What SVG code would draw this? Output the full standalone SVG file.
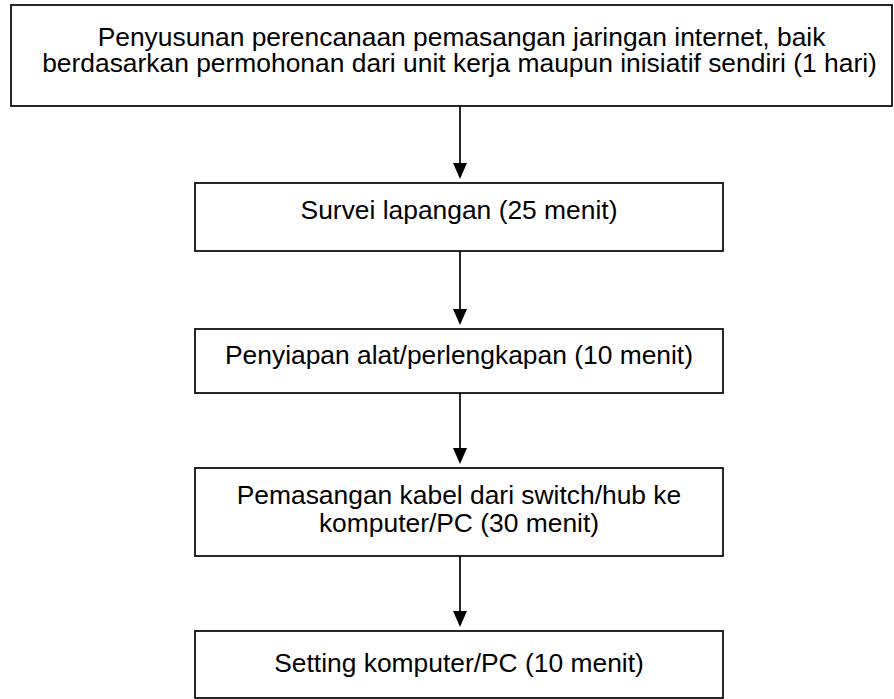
<svg xmlns="http://www.w3.org/2000/svg" width="894" height="699" viewBox="0 0 894 699">
<style>
.box{fill:#fff;stroke:#000;stroke-width:1.7}
.t{font-family:"Liberation Sans",Arial,sans-serif;font-size:26.4px;fill:#000;text-anchor:middle}
.c{stroke:#000;stroke-width:1.7;fill:none}
.ah{fill:#000}
</style>
<rect width="894" height="699" fill="#fff"/>
<g id="n1">
<rect class="box" x="11" y="5" width="881" height="101"/>
<text class="t" x="461.5" y="46">Penyusunan perencanaan pemasangan jaringan internet, baik</text>
<text class="t" x="459.5" y="72">berdasarkan permohonan dari unit kerja maupun inisiatif sendiri (1 hari)</text>
</g>
<g id="n2">
<rect class="box" x="195" y="183" width="528" height="68"/>
<text class="t" x="459" y="219">Survei lapangan (25 menit)</text>
</g>
<g id="n3">
<rect class="box" x="195" y="329" width="528" height="64"/>
<text class="t" x="459" y="364">Penyiapan alat/perlengkapan (10 menit)</text>
</g>
<g id="n4">
<rect class="box" x="195" y="468" width="528" height="88"/>
<text class="t" x="459" y="504">Pemasangan kabel dari switch/hub ke</text>
<text class="t" x="459" y="532">komputer/PC (30 menit)</text>
</g>
<g id="n5">
<rect class="box" x="195" y="631" width="528" height="67"/>
<text class="t" x="459" y="672">Setting komputer/PC (10 menit)</text>
</g>
<g id="connectors">
<line class="c" x1="460" y1="106" x2="460" y2="168"/>
<polygon class="ah" points="453,163 467,163 460,179"/>
<line class="c" x1="460" y1="251" x2="460" y2="314"/>
<polygon class="ah" points="453,309 467,309 460,325"/>
<line class="c" x1="460" y1="393" x2="460" y2="453"/>
<polygon class="ah" points="453,448 467,448 460,464"/>
<line class="c" x1="460" y1="556" x2="460" y2="616"/>
<polygon class="ah" points="453,611 467,611 460,627"/>
</g>
</svg>
